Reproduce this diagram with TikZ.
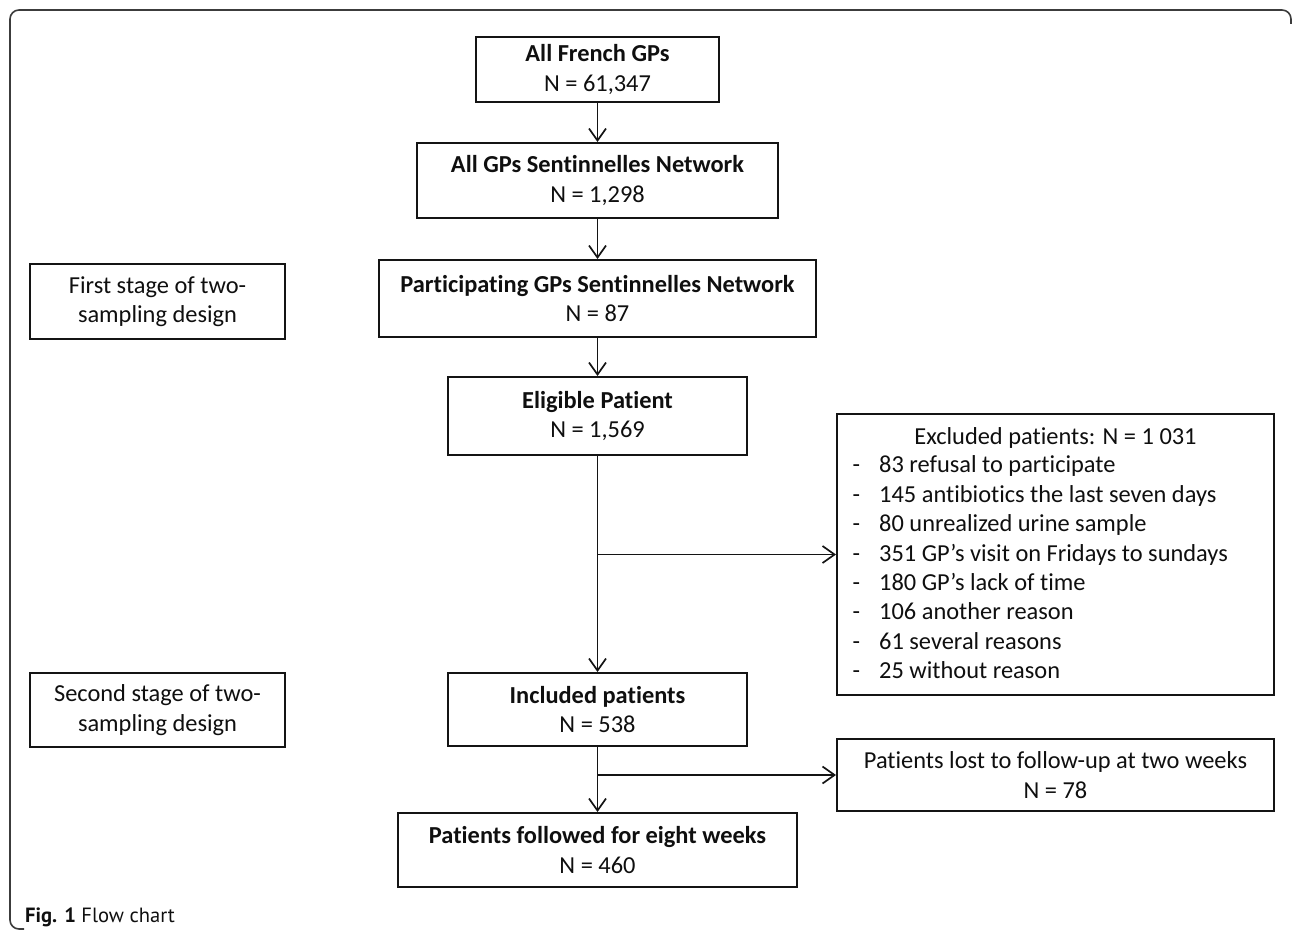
\documentclass[tikz,border=0pt]{standalone}
\usepackage{fontspec}
\setmainfont{Carlito}[Ligatures=NoCommon]
\newfontfamily\captionfont{PT Sans}
\usepackage{tikz}
\usetikzlibrary{
  arrows.meta,
  positioning,
  calc
}
\definecolor{linecolor}{RGB}{20, 20, 20}
\definecolor{framecolor}{RGB}{60, 60, 60}
\definecolor{labelcolor}{RGB}{15, 15, 15}
\tikzset{
blocktext/.style={
  align=center,
  font=\fontsize{24.4}{29.5}\selectfont,
  text=labelcolor
},
flowblock/.style={
  draw=linecolor,
  line width=2pt,
  fill=white,
  inner sep=0pt,
  blocktext
},
listitem/.style={
  anchor=base west,
  inner sep=0pt,
  font=\fontsize{24.4}{29.5}\selectfont,
  text=labelcolor
},
arrow/.style={
  -{Straight Barb[length=12pt,width=17pt,line width=1.7pt]},
  line width=1.8pt,
  draw=linecolor
},
outerframe/.style={
  draw=framecolor,
  line width=1.6pt,
  rounded corners=9pt
}
}

\begin{document}
\begin{tikzpicture}[x=1pt, y=-1pt]
  \useasboundingbox (0,0) rectangle (1292,931);

  % Outer frame
  \draw[outerframe] (24,929) -- (10,929) -- (10,10) -- (1291,10) -- (1291,24);

  % Main stages
  \node[flowblock, minimum width=243pt, minimum height=65pt] (french) at (597.5,69.5)
    {\textbf{All French GPs}\\N = 61,347};
  \node[flowblock, minimum width=361pt, minimum height=75pt] (network) at (597.5,180.5)
    {\textbf{All GPs Sentinnelles Network}\\N = 1,298};
  \node[flowblock, minimum width=437pt, minimum height=77pt] (particip) at (597.5,298.5)
    {\textbf{Participating GPs Sentinnelles Network}\\N = 87};
  \node[flowblock, minimum width=299pt, minimum height=78pt] (eligible) at (597.5,416)
    {\textbf{Eligible Patient}\\N = 1,569};
  \node[flowblock, minimum width=299pt, minimum height=73pt] (included) at (597.5,709.5)
    {\textbf{Included patients}\\N = 538};
  \node[flowblock, minimum width=399pt, minimum height=74pt] (followed) at (597.5,850)
    {\textbf{Patients followed for eight weeks}\\N = 460};

  % Stage labels
  \node[flowblock, minimum width=255pt, minimum height=75pt] (stageone) at (157.5,301.5)
    {First stage of two-\\sampling design};
  \node[flowblock, minimum width=255pt, minimum height=74pt] (stagetwo) at (157.5,710)
    {Second stage of two-\\sampling design};

  % Exclusions
  \node[flowblock, minimum width=437pt, minimum height=281pt] (excluded) at (1055.5,554.5) {};
  \node[blocktext, anchor=base, inner sep=0pt] (exctitle) at (1055.5,444)
    {Excluded patients: N = 1 031};
  \foreach \reason [count=\i] in {
      83 refusal to participate,
      145 antibiotics the last seven days,
      80 unrealized urine sample,
      351 GP’s visit on Fridays to sundays,
      180 GP’s lack of time,
      106 another reason,
      61 several reasons,
      25 without reason}
    \node[listitem] (reason\i) at (852.5,443.5+29.4*\i) {\makebox[26.5pt][l]{-}\reason};
  \node[flowblock, minimum width=437pt, minimum height=72pt] (lost) at (1055.5,775)
    {Patients lost to follow-up at two weeks\\N = 78};

  % Arrows
  \draw[arrow] (french) -- (network);
  \draw[arrow] (network) -- (particip);
  \draw[arrow] (particip) -- (eligible);
  \draw[arrow] (eligible) -- (included);
  \draw[arrow] (eligible.south |- excluded.west) -- (excluded.west);
  \draw[arrow] (included) -- (followed);
  \draw[arrow] (included.south |- lost.west) -- (lost.west);

  % Caption
  \node[anchor=base west, inner sep=0pt, font=\captionfont\fontsize{20.6}{24}\selectfont, text=labelcolor]
    (caption) at (25,922) {\textbf{Fig. 1} Flow chart};
\end{tikzpicture}
\end{document}
